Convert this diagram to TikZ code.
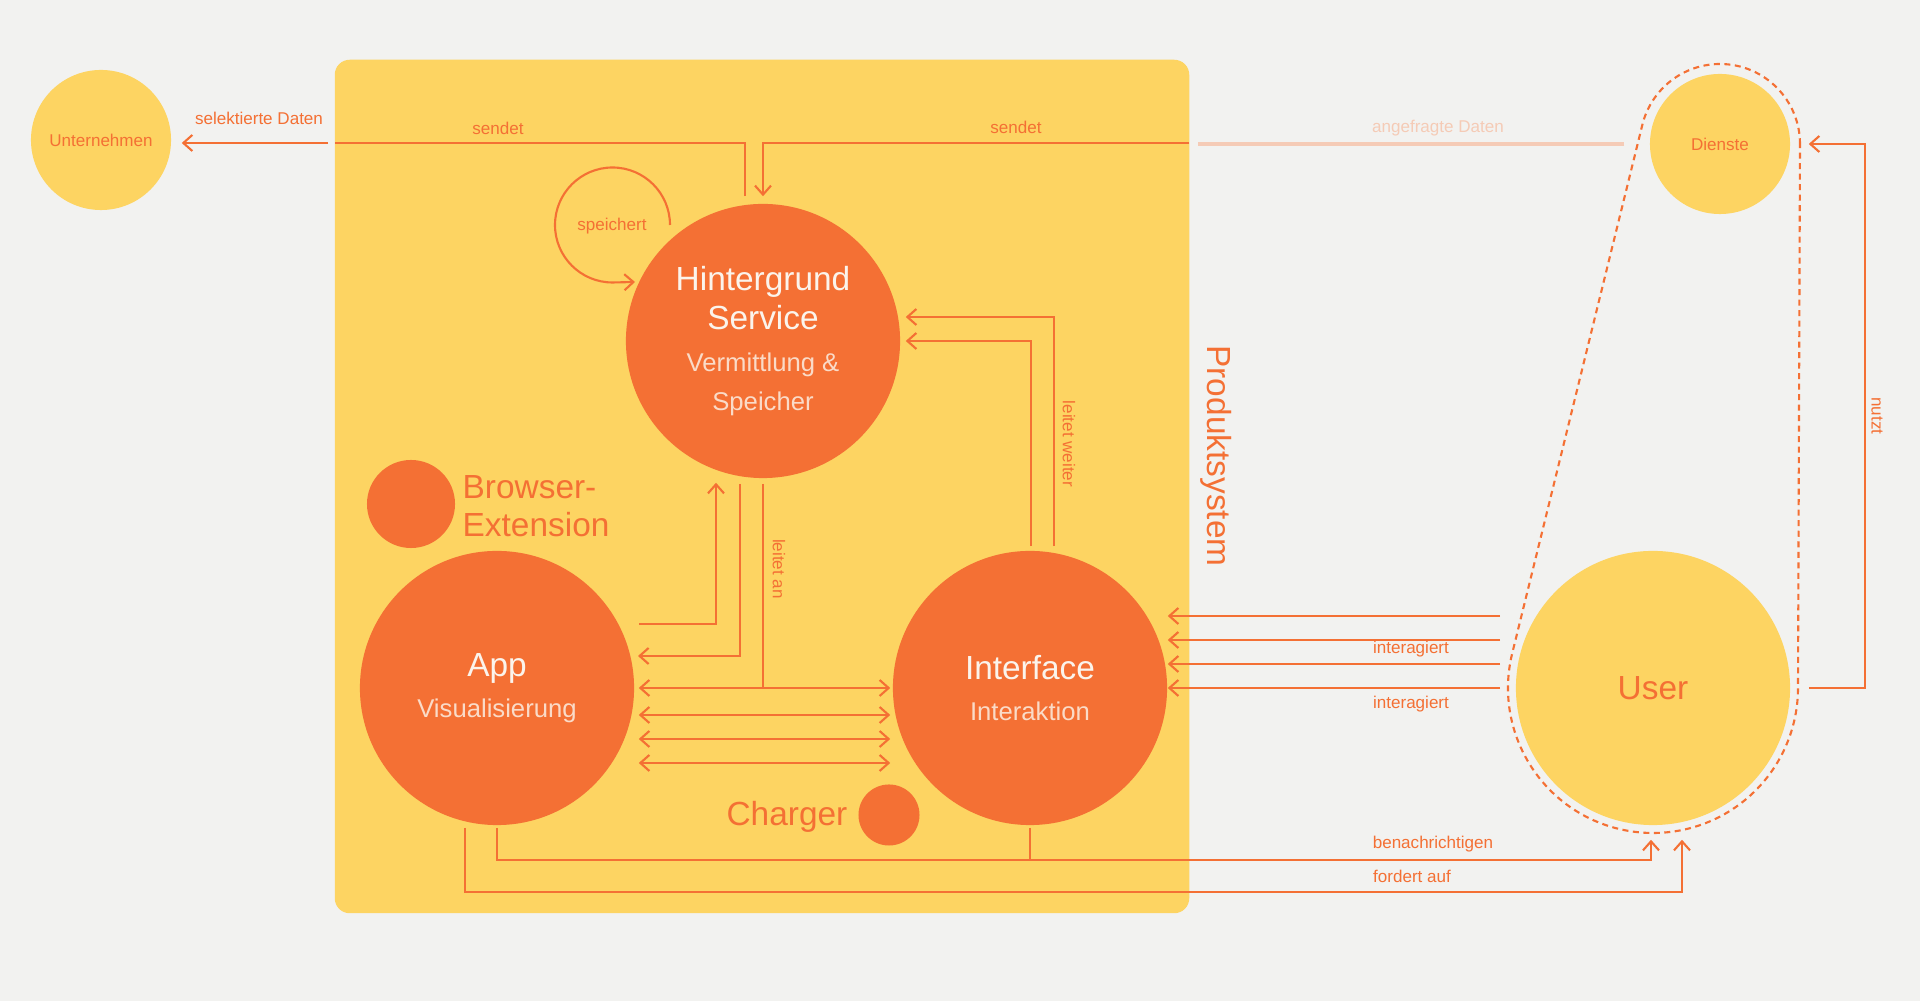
\documentclass[tikz,border=0pt]{standalone}
\usepackage{fontspec}
\setmainfont{Liberation Sans}
\usetikzlibrary{arrows.meta,calc}
\definecolor{grund}{HTML}{F2F2F0}
\definecolor{gelb}{HTML}{FDD462}
\definecolor{akzent}{HTML}{F47034}
\definecolor{hell}{HTML}{FBF4EC}
\definecolor{blass}{HTML}{FADBC8}
\definecolor{blassrot}{HTML}{F5CBB6}
\newcommand{\klein}[1]{{\fontsize{7.3}{11}\selectfont\color{blass}#1}}
\begin{document}
\begin{tikzpicture}[x=0.01cm, y=-0.01cm,
    big/.style={circle, fill=akzent, text=hell, minimum size=2.74cm, inner sep=0pt, align=center, font=\fontsize{9.5}{11}\selectfont},
    ext/.style={circle, fill=gelb, text=akzent, inner sep=0pt, align=center},
    dot/.style={circle, fill=akzent, inner sep=0pt},
    lbl/.style={text=akzent, font=\fontsize{4.85}{5.5}\selectfont, inner sep=0pt},
    title/.style={text=akzent, font=\fontsize{9.5}{10.8}\selectfont, inner sep=0pt, align=left},
    line/.style={draw=akzent, line width=0.6pt},
    flow/.style={line, -{Straight Barb[length=0.9mm, width=1.6mm]}},
    both/.style={line, {Straight Barb[length=0.9mm, width=1.6mm]}-{Straight Barb[length=0.9mm, width=1.6mm]}},
    faint/.style={draw=blassrot, line width=1.3pt},
    hull/.style={draw=akzent, line width=0.6pt, dash pattern=on 0.6mm off 0.45mm}]
  \path[use as bounding box, fill=grund] (0,0) rectangle (1920,1001);
  \node[fill=gelb, rounded corners=0.15cm, minimum width=8.54cm, minimum height=8.53cm, inner sep=0pt] (sys) at (762,486.5) {};
  \node[big] (hs) at (763,341) {Hintergrund\\Service\\[1pt]\klein{Vermittlung \&}\\\klein{Speicher}};
  \node[big] (app) at (497,688) {App\\[0.8pt]\klein{Visualisierung}};
  \node[big] (interface) at (1030,688) {Interface\\[0.8pt]\klein{Interaktion}};
  \node[ext, minimum size=1.4cm, font=\fontsize{4.85}{5.5}\selectfont] (unternehmen) at (101,140) {Unternehmen};
  \node[ext, minimum size=1.4cm, font=\fontsize{4.85}{5.5}\selectfont] (dienste) at (1720,144) {Dienste};
  \node[ext, minimum size=2.74cm, font=\fontsize{9.5}{10.5}\selectfont] (user) at (1653,688) {User};
  \node[dot, minimum size=0.88cm] (browser) at (411,504) {};
  \node[title, anchor=west] (browsertext) at (462,506) {Browser-\\Extension};
  \node[dot, minimum size=0.61cm] (charger) at (889,815) {};
  \node[title, anchor=east] (chargertext) at (848,817) {Charger};
  \node[title, rotate=-90] (produkt) at (1216,456) {Produktsystem};
  \coordinate (wgate) at (335,143);
  \coordinate (egate) at (1189,143);
  \draw[line] ($(hs.north)+(-18,-7)$) |- (wgate);
  \draw[flow] ($(wgate)+(-7,0)$) -- ($(unternehmen.east |- wgate)+(10,0)$);
  \draw[flow] (egate) -| ($(hs.north)+(0,-7)$);
  \draw[faint] ($(dienste.west)+(-25,0)$) -- ($(egate |- dienste.west)+(9,0)$);
  \draw[flow] ($(hs.center)+(-93,-116)$) arc[start angle=0, end angle=-270, radius=57.5] -- ($(hs.center)+(-128,-59)$);
  \draw[flow] ($(app.center)+(142,-64)$) -| ($(hs.south)+(-47,4)$);
  \draw[flow] ($(hs.south)+(-23,5)$) |- ($(app.center)+(141,-32)$);
  \draw[line] ($(hs.south)+(0,5)$) -- (hs.south |- app.east);
  \foreach \dy in {0,27,51,75}
    \draw[both] ($(app.east)+(4,\dy)$) -- ($(interface.west)+(-2,\dy)$);
  \draw[flow] ($(interface.north)+(24,-4)$) |- ($(hs.east)+(5,-24)$);
  \draw[flow] ($(interface.north)+(1,-4)$) |- ($(hs.east)+(5,0)$);
  \foreach \dy in {-72,-48,-24,0}
    \draw[flow] ($(user.west)+(-15,\dy)$) -- ($(interface.east)+(0,\dy)$);
  \draw[flow] ($(user.east)+(18,0)$) -- ++(56,0) |- ($(dienste.east)+(18,0)$);
  \draw[flow] ($(app.south)+(0,2)$) -- ++(0,32) -| ($(user.south)+(-2,14)$);
  \draw[line] ($(interface.south)+(0,2)$) -- ++(0,32);
  \draw[flow] ($(app.south)+(-32,2)$) -- ++(0,64) -| ($(user.south)+(29,14)$);
  \draw[hull] ($(dienste.center)+(0.2:80)$) arc[start angle=0.2, end angle=-166.2, radius=80]
    -- ($(user.center)+(-166.2:145)$) arc[start angle=-166.2, end angle=-359.8, radius=145] -- cycle;
  \node[lbl] (l1) at (259,118) {selektierte Daten};
  \node[lbl] (l2) at (498,128) {sendet};
  \node[lbl] (l3) at (1016,127) {sendet};
  \node[lbl, text=blassrot] (l4) at (1438,128) {angefragte Daten};
  \node[lbl] (l5) at (612,226) {speichert};
  \node[lbl, rotate=-90] (l6) at (779,569) {leitet an};
  \node[lbl, rotate=-90] (l7) at (1069,444) {leitet weiter};
  \node[lbl, rotate=-90] (l8) at (1877,416) {nutzt};
  \node[lbl] (l9) at (1411,649) {interagiert};
  \node[lbl] (l10) at (1411,704) {interagiert};
  \node[lbl] (l11) at (1433,844) {benachrichtigen};
  \node[lbl] (l12) at (1412,876) {fordert auf};
\end{tikzpicture}
\end{document}
